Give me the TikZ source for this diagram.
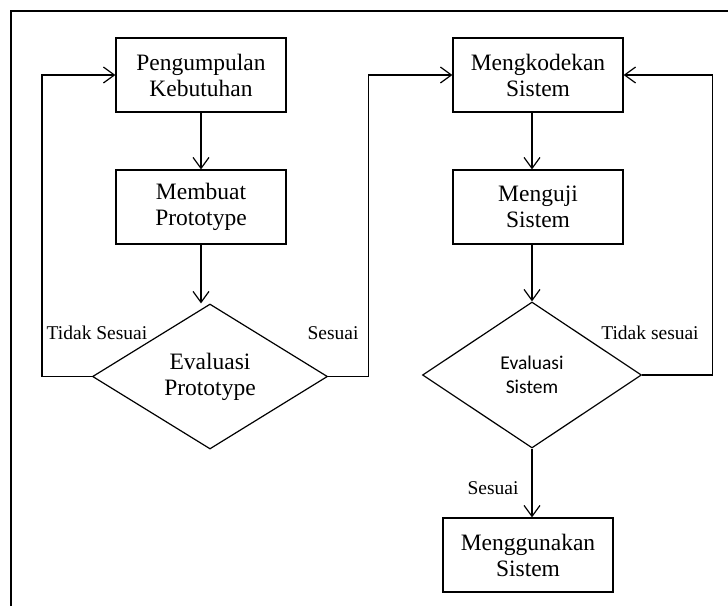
\documentclass[tikz,border=0pt]{standalone}
\usepackage{fontspec}
\setmainfont{Liberation Serif}
\newfontfamily\calibrifont{Carlito}
\usetikzlibrary{arrows.meta,shapes.geometric}

\begin{document}
\begin{tikzpicture}[x=1pt, y=-1pt, line width=1.2pt,
    kotak/.style={draw, minimum width=170pt, minimum height=74pt, inner sep=0pt,
        align=center, font=\fontsize{23.5}{26}\selectfont},
    keputusan/.style={draw, diamond, aspect=1.6, inner sep=0pt, align=center},
    panah/.style={-{Straight Barb[length=11pt,width=16pt]}},
    ket/.style={font=\fontsize{19.5}{21}\selectfont}]
        \useasboundingbox (0,0) rectangle (728,606);
        \draw[line width=1.5pt] (11,606) -- (11,11) -- (728,11);
        \node[kotak] (kebutuhan) at (201,75) {Pengumpulan\\Kebutuhan};
        \node[kotak] (prototype) at (201,207) {Membuat\\Prototype};
        \node[keputusan, minimum width=235pt, minimum height=145pt,
        font=\fontsize{23.5}{26}\selectfont] (evalproto) at (210,376.5) 
        {Evaluasi\\Prototype};
        \node[kotak] (kode) at (538,75) {Mengkodekan\\Sistem};
        \node[kotak] (uji) at (538,207) {Menguji\\Sistem};
        \node[keputusan, minimum width=219pt, minimum height=146pt,
        font=\calibrifont\fontsize{19.5}{24}\selectfont] (evalsistem) at (532,375) 
        {Evaluasi\\Sistem};
        \node[kotak] (guna) at (528,555) {Menggunakan\\Sistem};
        \draw[panah] (kebutuhan.south) -- (prototype.north);
        \draw[panah] (prototype.south) -- (prototype.south |- evalproto.north);
        \draw[panah] (evalproto.west) -- ++(-50,0) |- (kebutuhan.west);
        \node[ket] (tidak1) at (97,333) {Tidak Sesuai};
        \draw[panah] (evalproto.east) -- ++(40,0) |- (kode.west);
        \node[ket] (sesuai1) at (333,333) {Sesuai};
        \draw[panah] (kode.south -| evalsistem.north) -- (uji.north -| evalsistem.north);
        \draw[panah] (uji.south -| evalsistem.north) -- (evalsistem.north);
        \draw[panah] (evalsistem.east) -- ++(70,0) |- (kode.east);
        \node[ket] (tidak2) at (650,333) {Tidak sesuai};
        \draw[panah] (evalsistem.south) -- (evalsistem.south |- guna.north);
        \node[ket] (sesuai2) at (493,488) {Sesuai};
    \end{tikzpicture}
\end{document}
